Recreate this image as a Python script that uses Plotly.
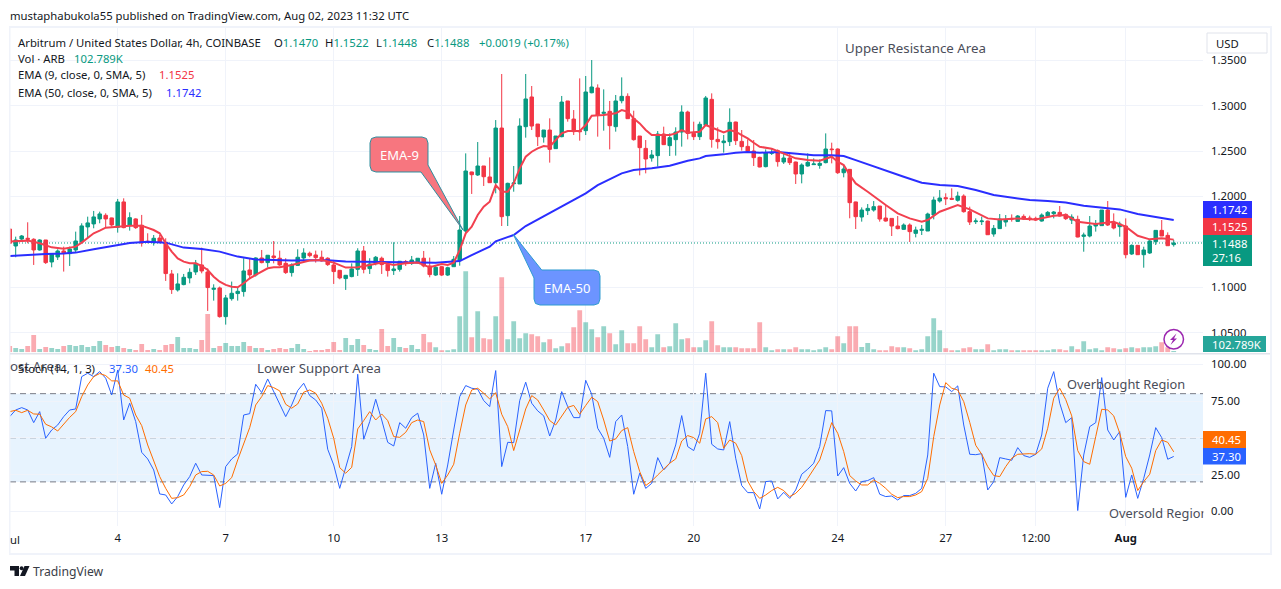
import pandas as pd
import plotly.graph_objects as go

# ---------- data ----------
opens = [1.1642,1.1455,1.1532,1.1540,1.1529,1.1411,1.1521,1.1279,1.1334,1.1400,
1.1371,1.1411,1.1499,1.1665,1.1698,1.1753,1.1793,1.1764,1.1661,1.1940,
1.1679,1.1753,1.1683,1.1507,1.1492,1.1543,1.1496,1.1147,1.0971,1.1030,
1.1103,1.1169,1.1246,1.1169,1.0978,1.0993,1.0677,1.0875,1.0931,1.0953,
1.1191,1.1136,1.1323,1.1272,1.1345,1.1320,1.1264,1.1162,1.1242,1.1323,
1.1375,1.1356,1.1331,1.1320,1.1246,1.1187,1.1096,1.1118,1.1198,1.1400,
1.1206,1.1264,1.1320,1.1250,1.1184,1.1198,1.1283,1.1264,1.1283,1.1320,
1.1235,1.1135,1.1227,1.1135,1.1227,1.1293,1.1620,1.2270,1.2237,1.2336,
1.2215,1.2152,1.2754,1.1789,1.2141,1.2138,1.2769,1.3096,1.2798,1.2655,
1.2732,1.2527,1.2659,1.3052,1.2853,1.2725,1.2725,1.3143,1.3195,1.2916,
1.2938,1.2769,1.3055,1.3103,1.2857,1.2666,1.2530,1.2424,1.2450,1.2688,
1.2560,1.2626,1.2710,1.2930,1.2695,1.2659,1.2784,1.3070,1.2629,1.2593,
1.2604,1.2820,1.2607,1.2552,1.2501,1.2431,1.2329,1.2475,1.2505,1.2380,
1.2424,1.2380,1.2248,1.2336,1.2351,1.2343,1.2373,1.2523,1.2523,1.2262,
1.2299,1.1940,1.1774,1.1844,1.1851,1.1895,1.1763,1.1759,1.1675,1.1638,
1.1686,1.1594,1.1627,1.1620,1.1796,1.1950,1.1987,1.1980,1.1958,1.2005,
1.1833,1.1723,1.1723,1.1730,1.1587,1.1646,1.1719,1.1759,1.1726,1.1781,
1.1763,1.1759,1.1730,1.1785,1.1811,1.1825,1.1803,1.1741,1.1748,1.1561,
1.1565,1.1675,1.1679,1.1851,1.1712,1.1668,1.1675,1.1367,1.1462,1.1359,
1.1378,1.1502,1.1627,1.1572,1.1470]
closes = [1.1485,1.1521,1.1565,1.1529,1.1411,1.1521,1.1272,1.1364,1.1400,1.1375,
1.1422,1.1510,1.1676,1.1709,1.1775,1.1808,1.1753,1.1687,1.1940,1.1657,
1.1767,1.1657,1.1488,1.1496,1.1540,1.1499,1.1151,1.0975,1.1037,1.1110,
1.1165,1.1264,1.1180,1.0997,1.0989,1.0677,1.0883,1.0934,1.0956,1.1180,
1.1136,1.1323,1.1272,1.1353,1.1327,1.1246,1.1162,1.1246,1.1331,1.1378,
1.1349,1.1327,1.1290,1.1250,1.1173,1.1103,1.1132,1.1202,1.1400,1.1198,
1.1257,1.1331,1.1250,1.1184,1.1202,1.1287,1.1264,1.1301,1.1320,1.1235,
1.1140,1.1220,1.1135,1.1216,1.1308,1.1631,1.2281,1.2240,1.2336,1.2218,
1.2152,1.2754,1.1778,1.2145,1.2149,1.2776,1.3074,1.2776,1.2659,1.2732,
1.2519,1.2666,1.3040,1.2857,1.2714,1.2714,1.3151,1.3206,1.2897,1.2927,
1.2780,1.3052,1.3103,1.2857,1.2626,1.2538,1.2413,1.2457,1.2688,1.2571,
1.2648,1.2710,1.2930,1.2695,1.2659,1.2795,1.3085,1.2629,1.2604,1.2611,
1.2817,1.2615,1.2549,1.2501,1.2428,1.2325,1.2483,1.2483,1.2384,1.2424,
1.2373,1.2248,1.2347,1.2376,1.2358,1.2365,1.2523,1.2516,1.2262,1.2303,
1.1932,1.1778,1.1851,1.1869,1.1888,1.1752,1.1730,1.1675,1.1646,1.1686,
1.1613,1.1631,1.1638,1.1807,1.1961,1.1983,1.1976,1.1969,1.2005,1.1833,
1.1719,1.1730,1.1730,1.1579,1.1649,1.1752,1.1741,1.1752,1.1785,1.1752,
1.1756,1.1741,1.1796,1.1825,1.1829,1.1785,1.1756,1.1774,1.1554,1.1576,
1.1675,1.1701,1.1851,1.1686,1.1653,1.1697,1.1359,1.1462,1.1359,1.1411,
1.1510,1.1627,1.1565,1.1458,1.1488]
highs = [1.1642,1.1558,1.1576,1.1716,1.1540,1.1529,1.1521,1.1375,1.1419,1.1448,
1.1448,1.1613,1.1705,1.1778,1.1841,1.1833,1.1815,1.1767,1.1973,1.1980,
1.1826,1.1760,1.1797,1.1595,1.1576,1.1576,1.1540,1.1191,1.1154,1.1147,
1.1209,1.1301,1.1437,1.1209,1.1033,1.1008,1.0916,1.1063,1.1000,1.1320,
1.1320,1.1331,1.1411,1.1356,1.1510,1.1404,1.1320,1.1264,1.1419,1.1430,
1.1393,1.1404,1.1404,1.1331,1.1301,1.1191,1.1136,1.1264,1.1430,1.1455,
1.1320,1.1345,1.1338,1.1264,1.1496,1.1290,1.1301,1.1345,1.1320,1.1400,
1.1327,1.1245,1.1234,1.1227,1.1344,1.1785,1.2475,1.2273,1.2600,1.2336,
1.2431,1.2842,1.3349,1.2152,1.2336,1.2861,1.3349,1.3217,1.2798,1.2732,
1.2861,1.2666,1.3107,1.3052,1.2952,1.3301,1.3327,1.3503,1.3235,1.3180,
1.3052,1.3118,1.3312,1.3136,1.2945,1.2666,1.2622,1.2512,1.2721,1.2769,
1.2695,1.2762,1.3004,1.2945,1.2824,1.2824,1.3107,1.3136,1.2762,1.2677,
1.2971,1.2824,1.2732,1.2629,1.2622,1.2439,1.2519,1.2530,1.2519,1.2475,
1.2483,1.2384,1.2365,1.2475,1.2420,1.2409,1.2695,1.2593,1.2530,1.2347,
1.2303,1.1943,1.1880,1.1917,1.1950,1.1895,1.1906,1.1759,1.1785,1.1704,
1.1704,1.1668,1.1686,1.1822,1.1998,1.2071,1.2035,1.2090,1.2053,1.2024,
1.1888,1.1759,1.1778,1.1734,1.1686,1.1807,1.1796,1.1803,1.1796,1.1803,
1.1789,1.1778,1.1814,1.1840,1.1840,1.1895,1.1814,1.1803,1.1789,1.1602,
1.1785,1.1741,1.1851,1.1950,1.1814,1.1723,1.1759,1.1473,1.1466,1.1447,
1.1521,1.1631,1.1741,1.1605,1.1522]
lows = [1.1485,1.1331,1.1521,1.1485,1.1246,1.1404,1.1257,1.1220,1.1301,1.1173,
1.1235,1.1382,1.1492,1.1540,1.1650,1.1705,1.1661,1.1668,1.1602,1.1650,
1.1624,1.1643,1.1448,1.1485,1.1459,1.1485,1.1070,1.0927,1.0953,1.1022,
1.1044,1.1136,1.1154,1.0740,1.0853,1.0666,1.0589,1.0853,1.0853,1.0897,
1.1088,1.1118,1.1264,1.1220,1.1264,1.1235,1.1147,1.1118,1.1235,1.1301,
1.1331,1.1272,1.1283,1.1235,1.1037,1.1088,1.0971,1.1110,1.1125,1.1154,
1.1147,1.1242,1.1147,1.1118,1.1136,1.1173,1.1235,1.1246,1.1264,1.1220,
1.1110,1.1124,1.1124,1.1124,1.1227,1.1238,1.1594,1.2028,1.2226,1.2116,
1.2152,1.2035,1.1675,1.1675,1.2053,1.2138,1.2648,1.2732,1.2556,1.2593,
1.2373,1.2523,1.2652,1.2824,1.2677,1.2615,1.2677,1.3136,1.2659,1.2725,
1.2519,1.2714,1.3026,1.2857,1.2615,1.2233,1.2255,1.2384,1.2329,1.2567,
1.2446,1.2450,1.2549,1.2629,1.2622,1.2622,1.2776,1.2538,1.2527,1.2483,
1.2556,1.2567,1.2505,1.2494,1.2336,1.2321,1.2321,1.2457,1.2329,1.2358,
1.2347,1.2138,1.2145,1.2329,1.2347,1.2306,1.2365,1.2365,1.2248,1.2211,
1.1760,1.1642,1.1723,1.1796,1.1833,1.1723,1.1723,1.1565,1.1638,1.1631,
1.1499,1.1550,1.1576,1.1620,1.1748,1.1932,1.1906,1.1961,1.1943,1.1822,
1.1686,1.1697,1.1686,1.1576,1.1557,1.1642,1.1668,1.1723,1.1723,1.1741,
1.1730,1.1730,1.1723,1.1778,1.1759,1.1778,1.1741,1.1697,1.1550,1.1392,
1.1550,1.1613,1.1679,1.1675,1.1638,1.1557,1.1319,1.1356,1.1356,1.1216,
1.1367,1.1466,1.1565,1.1455,1.1448]
volume_k = [475,325,250,475,1300,250,400,325,250,475,
550,475,550,400,475,850,550,400,475,325,
250,175,625,175,250,175,550,625,1150,325,
325,250,925,2875,325,475,700,475,475,775,
475,325,325,175,250,325,250,325,625,250,
100,175,175,250,775,175,1075,550,1000,550,
250,175,1750,475,1075,400,325,550,250,1375,
750,375,150,150,225,2700,6075,1125,3075,1050,
975,2700,5625,975,2325,1050,1425,1350,1200,750,
975,300,450,675,1875,3150,2250,1725,1125,1950,
1425,600,1650,675,675,1950,975,375,1350,375,
450,2175,975,1050,375,375,900,2325,525,375,
375,375,300,300,300,2250,375,150,225,225,
225,375,225,225,150,225,375,225,1200,675,
1950,1950,400,700,225,150,150,450,375,375,
300,150,225,1200,2550,1650,300,150,150,300,
375,225,225,600,150,225,225,150,150,150,
150,150,150,150,225,225,150,450,225,825,
225,300,150,375,300,225,300,375,300,375,
375,450,750,375,102.789]
ema50_bars = [0,3,6,9,11,14,17,20,23,26,29,32,35,38,41,44,47,50,53,56,59,62,65,68,71,75,77,80,81,84,86,88,91,94,96,98,100,102,104,107,110,113,115,116,119,121,123,125,128,131,134,137,139,141,143,146,149,152,155,158,161,164,167,170,173,176,179,182,185,188,191,194]
ema50 = [1.1345,1.1360,1.1367,1.1371,1.1382,1.1418,1.1455,1.1488,1.1503,1.1492,1.1437,1.1422,1.1393,1.1338,1.1305,1.1297,1.1294,1.1297,1.1297,1.1283,1.1279,1.1275,1.1272,1.1272,1.1271,1.1289,1.1355,1.1447,1.1506,1.1576,1.1675,1.1748,1.1851,1.1961,1.2034,1.2126,1.2189,1.2255,1.2291,1.2310,1.2339,1.2394,1.2420,1.2446,1.2464,1.2482,1.2490,1.2482,1.2490,1.2468,1.2453,1.2453,1.2446,1.2401,1.2354,1.2291,1.2218,1.2152,1.2126,1.2115,1.2071,1.2016,1.1990,1.1961,1.1950,1.1935,1.1899,1.1880,1.1858,1.1807,1.1777,1.1742]
ema9_bars = [0,3,5,7,9,11,12,13,14,15,16,18,20,22,24,25,26,27,28,29,30,31,32,33,34,35,36,37,38,39,40,41,42,43,44,45,47,48,50,52,54,56,58,60,62,64,66,68,70,72,73,74,75,76,77,78,79,80,81,82,83,84,85,86,87,88,89,90,91,92,93,95,96,97,99,101,102,103,104,105,106,107,108,110,111,112,113,115,116,117,118,119,120,121,122,123,124,125,127,129,131,133,135,137,138,139,140,141,143,146,148,150,152,153,155,158,160,163,165,168,171,174,176,178,181,184,186,188,190,192,194]
ema9 = [1.1503,1.1514,1.1485,1.1440,1.1426,1.1448,1.1492,1.1540,1.1595,1.1624,1.1657,1.1668,1.1679,1.1679,1.1631,1.1595,1.1485,1.1393,1.1319,1.1283,1.1264,1.1264,1.1235,1.1191,1.1117,1.1062,1.1026,1.1007,1.1000,1.1044,1.1099,1.1136,1.1172,1.1209,1.1220,1.1220,1.1246,1.1264,1.1294,1.1301,1.1272,1.1217,1.1220,1.1246,1.1272,1.1246,1.1264,1.1272,1.1220,1.1256,1.1245,1.1271,1.1410,1.1594,1.1667,1.1796,1.1888,1.1943,1.2126,1.2053,1.2053,1.2145,1.2310,1.2438,1.2493,1.2530,1.2556,1.2548,1.2622,1.2695,1.2721,1.2721,1.2787,1.2890,1.2897,1.2916,1.2952,1.2934,1.2860,1.2805,1.2732,1.2677,1.2677,1.2677,1.2695,1.2732,1.2703,1.2714,1.2787,1.2761,1.2732,1.2706,1.2732,1.2714,1.2677,1.2640,1.2592,1.2548,1.2526,1.2475,1.2420,1.2402,1.2394,1.2438,1.2383,1.2346,1.2236,1.2144,1.2053,1.1906,1.1814,1.1759,1.1722,1.1741,1.1832,1.1906,1.1858,1.1759,1.1748,1.1759,1.1748,1.1788,1.1796,1.1722,1.1697,1.1722,1.1667,1.1568,1.1528,1.1539,1.1525]
stoch_k = [64.4,68.9,70.5,68.9,60.3,67.8,49.7,55.3,58.7,64.4,
68.9,69.6,91.6,93.9,91.6,95.0,90.5,79.1,96.1,62.1,
73.5,61.0,40.1,35.6,28.1,11.8,11.1,5.0,10.0,17.9,
23.6,32.7,24.7,24.7,24.3,2.5,30.4,35.6,39.0,65.5,
66.4,86.4,80.7,90.0,81.4,72.3,64.4,72.3,82.1,87.1,
78.7,75.7,70.1,42.2,31.5,15.6,30.4,44.0,93.2,49.0,
61.0,76.2,62.1,46.9,44.4,60.3,56.5,63.7,66.7,51.9,
15.6,32.7,11.6,31.5,55.3,78.0,85.5,83.7,83.0,75.3,
71.2,95.7,30.4,46.9,46.7,75.3,87.8,73.5,68.3,64.9,
51.2,62.1,81.4,71.2,63.7,63.7,89.1,79.6,56.5,49.7,
36.7,61.0,65.5,44.0,11.6,25.9,15.6,19.0,36.5,28.1,
32.7,45.1,65.1,44.0,41.3,53.1,93.9,45.6,42.4,41.7,
61.0,36.1,17.5,12.7,12.7,1.6,20.2,20.6,8.4,12.9,
8.8,14.5,25.2,28.6,32.7,44.0,68.5,68.3,24.0,29.7,
19.0,13.8,20.2,20.9,22.9,11.6,10.0,10.4,7.7,10.7,
10.7,12.2,15.6,38.3,93.9,84.8,84.6,81.4,85.3,58.7,
38.8,38.5,39.2,14.5,20.2,36.5,35.6,34.7,43.3,37.9,
36.7,38.8,51.9,83.7,95.0,73.5,60.3,63.7,0.5,38.3,
57.6,60.3,90.9,55.3,48.5,54.2,9.5,24.7,8.8,22.4,
38.3,56.9,50.1,35.4,37.30]
stoch_d = [67.8,68.7,67.1,68.7,66.2,66.0,59.2,57.4,54.6,59.4,
63.9,67.8,78.0,85.9,91.6,93.7,92.3,88.7,88.7,79.1,
76.9,65.5,58.3,45.1,33.8,23.6,15.6,8.8,9.3,11.1,
16.8,24.7,27.0,27.2,24.7,17.2,19.0,22.9,34.9,46.3,
56.9,72.3,78.0,85.5,84.1,81.9,72.8,70.1,73.0,81.0,
82.5,80.3,73.5,63.3,49.7,29.7,25.9,29.9,56.0,61.7,
67.8,62.1,66.2,61.7,50.8,50.3,53.7,60.3,62.1,61.0,
41.8,31.5,19.0,24.7,32.0,53.1,72.3,82.5,83.7,80.3,
76.4,80.7,66.0,57.6,41.3,55.3,69.6,78.7,75.7,68.9,
61.7,58.7,64.4,70.7,72.0,66.0,72.0,77.6,74.6,62.1,
47.8,49.2,54.9,56.9,40.6,27.0,17.5,20.6,24.7,28.8,
32.7,35.6,47.8,51.5,50.1,46.3,62.8,64.4,60.3,42.9,
48.5,46.3,37.9,20.6,13.4,8.8,11.1,14.1,16.3,14.1,
10.0,12.2,16.3,22.4,28.6,34.9,47.4,60.3,53.1,40.6,
24.3,20.6,17.9,17.9,21.3,19.0,15.6,11.6,9.3,10.0,
10.0,11.1,13.4,22.4,50.8,72.3,87.5,83.7,82.5,74.6,
60.5,44.9,38.8,30.4,24.3,23.6,30.4,36.1,38.8,39.2,
39.2,38.8,42.4,56.5,76.9,83.7,76.0,64.9,41.3,33.8,
32.0,50.8,69.4,68.9,64.9,53.1,37.2,29.3,14.1,20.2,
25.2,41.3,48.5,46.9,40.45]
price_ticks = [1.05,1.10,1.15,1.20,1.25,1.30,1.35]
stoch_ticks = [0,25,50,75,100]
stoch_levels = [80,50,20]
date_ticks = ["2023-07-04","2023-07-07","2023-07-10","2023-07-13","2023-07-17","2023-07-20","2023-07-24","2023-07-27","2023-07-29 12:00","2023-08-01"]
date_labels = ["4","7","10","13","17","20","24","27","12:00","<b>Aug</b>"]
for series in (opens, closes, highs, lows, volume_k, stoch_k, stoch_d):
    assert len(series) == 195, len(series)
assert len(ema50) == len(ema50_bars) and len(ema9) == len(ema9_bars)

# ---------- layout helpers ----------
W, H = 1281, 589
PX = lambda v: v / W
PY = lambda v: 1 - v / H
FONT = "Noto Sans"
INK = "#131722"
TEAL, RED = "#089981", "#F23645"
PANE_L, PANE_R = 10, 1203
PRICE_T, PRICE_B = 28, 352.3
STOCH_T, STOCH_B = 355, 526
LABEL = 11.3
NOTE = 13.3
NOTE_SMALL = 12.8

dates = pd.date_range("2023-07-01 00:00", periods=195, freq="4h")
bar_h = pd.Timedelta(hours=4)
x_range = [pd.Timestamp("2023-07-01") + 0.05 * bar_h, pd.Timestamp("2023-07-01") + 198.88 * bar_h]
vol_colors = ["rgba(8,153,129,0.42)" if c >= o else "rgba(242,54,69,0.42)" for o, c in zip(opens, closes)]

fig = go.Figure()
fig.add_bar(x=dates, y=volume_k, xaxis="x2", yaxis="y2", marker=dict(color=vol_colors, line_width=0),
            width=11500000, hoverinfo="skip")
fig.add_candlestick(x=dates, open=opens, high=highs, low=lows, close=closes, xaxis="x2", yaxis="y",
                    increasing=dict(line=dict(color=TEAL, width=1), fillcolor=TEAL),
                    decreasing=dict(line=dict(color=RED, width=1), fillcolor=RED),
                    whiskerwidth=0)
fig.add_scatter(x=dates[ema50_bars], y=ema50, xaxis="x2", yaxis="y", mode="lines",
                line=dict(color="#2A2EFF", width=2))
fig.add_scatter(x=dates[ema9_bars], y=ema9, xaxis="x2", yaxis="y", mode="lines",
                line=dict(color="#F2404F", width=2))
fig.add_scatter(x=dates, y=stoch_k, xaxis="x", yaxis="y3", mode="lines", line=dict(color="#2962FF", width=1))
fig.add_scatter(x=dates, y=stoch_d, xaxis="x", yaxis="y3", mode="lines", line=dict(color="#FF6D00", width=1))

shapes, notes = [], []

def box(x0, y0, x1, y1, fill, line="rgba(0,0,0,0)", lw=0):
    shapes.append(dict(type="rect", xref="paper", yref="paper", x0=PX(x0), x1=PX(x1), y0=PY(y1), y1=PY(y0),
                       fillcolor=fill, line=dict(color=line, width=lw), layer="above"))

def path(points, fill, line="rgba(0,0,0,0)", lw=0):
    d = "M " + " L ".join(f"{PX(a):.5f},{PY(b):.5f}" for a, b in points) + " Z"
    shapes.append(dict(type="path", xref="paper", yref="paper", path=d, fillcolor=fill,
                       line=dict(color=line, width=lw), layer="above"))

def text(x, y, s, color=INK, size=LABEL, anchor="left"):
    notes.append(dict(xref="paper", yref="paper", x=PX(x - (2 if anchor == "left" else 0)), y=PY(y), text=s,
                      showarrow=False, xanchor=anchor, yanchor="middle",
                      font=dict(family=FONT, size=size, color=color)))

# frame
for a in [(9, 26, 1271, 28), (9, 553, 1271, 555), (9, 26, 10.5, 555), (1270, 26, 1272, 555)]:
    box(*a, "#F0F3FA")
box(10, 353, 1270, 354.5, "#E0E3EB")

# stochastic band + levels, price line
shapes.append(dict(type="rect", xref="paper", yref="y3", x0=PX(PANE_L), x1=PX(PANE_R), y0=20, y1=80,
                   fillcolor="rgba(33,150,243,0.11)", line_width=0, layer="below"))
for lv in stoch_levels:
    shapes.append(dict(type="line", xref="paper", yref="y3", x0=PX(PANE_L), x1=PX(PANE_R), y0=lv, y1=lv,
                       line=dict(color="#787B86", width=1, dash="6px,4px"), layer="below"))
shapes.append(dict(type="line", xref="paper", yref="y", x0=PX(PANE_L), x1=PX(PANE_R), y0=closes[-1], y1=closes[-1],
                   line=dict(color=TEAL, width=1, dash="1px,2px"), layer="below"))

# callouts
path([(376, 137), (422, 137), (426.5, 138.5), (428, 143), (428, 165), (463, 230), (421, 172), (376, 172),
      (371.5, 170.5), (370, 166), (370, 143), (371.5, 138.5)], "#F7767F", "#2E8E9E", 1)
text(399, 154.5, "EMA-9", "#FFFFFF", 13, "center")
path([(513.3, 234.3), (541.7, 270), (594, 270), (598.5, 271.5), (600, 276), (600, 299), (598.5, 303.5), (594, 305),
      (540, 305), (535.5, 303.5), (534, 299), (534, 278)], "#6C94FF", "#2E9BD0", 1)
text(567, 287.5, "EMA-50", "#FFFFFF", 13, "center")

# free text
TXT = "#4A4D59"
text(845, 48, "Upper Resistance Area", TXT, NOTE)
text(257, 368, "Lower Support Area", TXT, NOTE)
text(1067, 384, "Overbought Region", TXT, NOTE_SMALL)
text(1109, 512.5, "Oversold Region", TXT, NOTE_SMALL)
notes.append(dict(xref="paper", yref="paper", x=PX(1203), y=PY(512.5), text=" ", showarrow=False, xanchor="left",
                  yanchor="middle", bgcolor="#FFFFFF", width=5, height=20, borderpad=0))
text(10, 366, "ost Area", TXT, NOTE)

# header and legends
text(10, 15, "mustaphabukola55 published on TradingView.com, Aug 02, 2023 11:32 UTC")
text(18, 42, "Arbitrum / United States Dollar, 4h, COINBASE")
for xp, lab, val in [(274, "O", "1.1470"), (325, "H", "1.1522"), (376, "L", "1.1448"), (427, "C", "1.1488")]:
    text(xp, 42, f'{lab}<span style="color:{TEAL}">{val}</span>')
text(479, 42, "+0.0019 (+0.17%)", TEAL)
text(18, 58, "Vol · ARB")
text(74, 58, "102.789K", TEAL)
text(18, 75, "EMA (9, close, 0, SMA, 5)")
text(159, 75, "1.1525", RED)
text(18, 92, "EMA (50, close, 0, SMA, 5)")
text(166, 92, "1.1742", "#2A2EFF")
text(18, 368, "Stoch (14, 1, 3)")
text(109, 368, "37.30", "#2962FF")
text(145, 368, "40.45", "#FF6D00")
text(10, 539, "ul")
text(33, 571.5, "TradingView", "#3A3D47", 12.2)

# USD button
shapes.append(dict(type="rect", xref="paper", yref="paper", x0=PX(1207), x1=PX(1267), y0=PY(53), y1=PY(33),
                   fillcolor="#FFFFFF", line=dict(color="#E0E3EB", width=1), layer="above"))
text(1216, 43.5, "USD")

# scale tags
box(1203, 201, 1252, 218, "#2A2EFF")
text(1212, 209.5, "1.1742", "#FFFFFF")
box(1203, 218, 1252, 235, RED)
text(1212, 226.5, "1.1525", "#FFFFFF")
box(1203, 235, 1252, 266, TEAL)
text(1212, 243.5, "1.1488", "#FFFFFF")
text(1212, 257.5, "27:16", "#FFFFFF")
box(1203, 336, 1266, 352, "#26A69A")
text(1212, 344, "102.789K", "#FFFFFF")
box(1203, 431, 1246, 448, "#FF6D00")
text(1212, 439.5, "40.45", "#FFFFFF")
box(1203, 448, 1246, 464.5, "#2962FF")
text(1212, 456.5, "37.30", "#FFFFFF")

# lightning badge
shapes.append(dict(type="circle", xref="paper", yref="paper", x0=PX(1164), x1=PX(1183.5), y0=PY(349), y1=PY(329.5),
                   fillcolor="rgba(255,255,255,0.85)", line=dict(color="#9C27B0", width=1.5), layer="above"))
path([(1176.5, 333.5), (1170, 340), (1173, 340), (1170.5, 345), (1177, 338.5), (1174, 338.5)], "#9C27B0")

# TradingView mark
path([(10, 566), (19, 566), (19, 576), (14.5, 576), (14.5, 570.5), (10, 570.5)], "#131722")
path([(29.5, 566), (25, 576), (20, 576), (24.5, 566)], "#131722")
shapes.append(dict(type="circle", xref="paper", yref="paper", x0=PX(19.7), x1=PX(23.5), y0=PY(570.2), y1=PY(566.2),
                   fillcolor="#131722", line_width=0, layer="above"))

GRID = "#F0F3FA"
axis_x = dict(domain=[PX(PANE_L), PX(PANE_R)], range=x_range, type="date", tickmode="array", tickvals=date_ticks,
              ticktext=date_labels, showgrid=True, gridcolor=GRID, gridwidth=1, zeroline=False, showline=False,
              ticks="", tickangle=0, rangeslider=dict(visible=False),
              tickfont=dict(family=FONT, size=LABEL, color=INK), ticklabelstandoff=4)
fig.update_layout(
    width=W, height=H, margin=dict(l=0, r=0, t=0, b=0), autosize=False, showlegend=False,
    paper_bgcolor="#FFFFFF", plot_bgcolor="#FFFFFF", boxgap=0.17, barmode="overlay", hovermode=False,
    xaxis=dict(axis_x, anchor="y3"),
    xaxis2=dict(axis_x, anchor="y2", matches="x", showticklabels=False),
    yaxis2=dict(domain=[PY(PRICE_B), PY(PRICE_T)], range=[0, (PRICE_B - PRICE_T) * 75], visible=False, anchor="x2",
                fixedrange=True),
    yaxis=dict(overlaying="y2", anchor="x2", side="right", range=[1.1 - (PRICE_B - 287.3) / 908, 1.1 + (287.3 - PRICE_T) / 908],
               tickmode="array", tickvals=price_ticks, tickformat=".4f", showgrid=True, gridcolor=GRID, zeroline=False,
               ticks="", ticklabelstandoff=7, tickfont=dict(family=FONT, size=LABEL, color=INK)),
    yaxis3=dict(domain=[PY(STOCH_B), PY(STOCH_T)], anchor="x", side="right", range=[-10, 106.3],
                tickmode="array", tickvals=stoch_ticks, tickformat=".2f", showgrid=True, gridcolor=GRID, zeroline=False,
                ticks="", ticklabelstandoff=7, tickfont=dict(family=FONT, size=LABEL, color=INK)),
    shapes=shapes, annotations=notes,
)
fig.write_html("out.html", config={"displayModeBar": False},
               post_script="document.body.style.margin='0';document.body.style.overflow='hidden';")
